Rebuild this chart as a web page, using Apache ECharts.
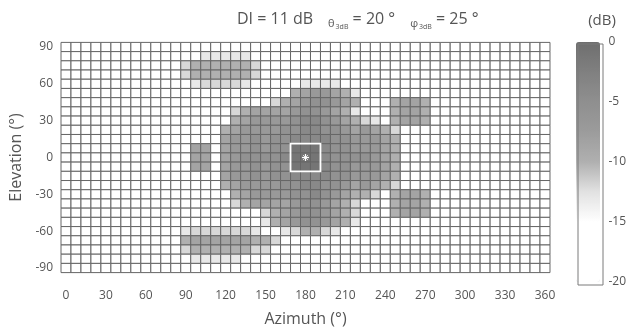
<!DOCTYPE html>
<html><head><meta charset="utf-8">
<script src="https://cdn.jsdelivr.net/npm/echarts@6/dist/echarts.min.js"></script>
<style>html,body{margin:0;padding:0;background:#fff}#c{width:629px;height:335px}</style>
</head><body><div id="c"></div>
<script>
// ---- data ----
const azimuthTicks = [0, 30, 60, 90, 120, 150, 180, 210, 240, 270, 300, 330, 360];
const elevationTicks = [-90, -60, -30, 0, 30, 60, 90];
const colorbarTicks = [-20, -15, -10, -5, 0];
const azimuthStep = 7.5;     // degrees between samples (columns)
const elevationStep = 7.5;   // degrees between samples (rows)
const elevationTop = 90;     // elevation of first row
// level key: character -> dB
const levelKey = { '.': -20, '1': -13, '2': -12, '3': -10, '4': -8.5, '5': -7, '6': -5.5, '7': -4, '8': -1 };
// 25 rows (elevation 90 .. -90), 49 columns (azimuth 0 .. 360)
const patternRows = [
  ".........." + ".........." + ".........." + ".........." + ".........",
  ".........." + "....11111." + ".........." + ".........." + ".........",
  ".........." + "..23333332" + ".........." + ".........." + ".........",
  ".........." + "..23333332" + ".........." + ".........." + ".........",
  ".........." + "...122221." + "....1111.." + ".........." + ".........",
  ".........." + ".........." + "...3455431" + ".........." + ".........",
  ".........." + ".........." + ".234566543" + "...3443..." + ".........",
  ".........." + ".......234" + "4445665431" + "...3443..." + ".........",
  ".........." + ".......345" + "5556776543" + "21.3443..." + ".........",
  ".........." + "......3455" + "5566776654" + "5432......" + ".........",
  ".........." + "......4556" + "5667777665" + "5543......" + ".........",
  ".........." + "...44.4556" + "5668887665" + "5543......" + ".........",
  ".........." + "...44.4566" + "6678887666" + "6543......" + ".........",
  ".........." + "...44.4556" + "5668887665" + "5543......" + ".........",
  ".........." + "......4556" + "5667777665" + "5543......" + ".........",
  ".........." + "......3455" + "5566776654" + "5432......" + ".........",
  ".........." + ".......345" + "5556676543" + "32.3443..." + ".........",
  ".........." + ".......234" + "4445665432" + "...3443..." + ".........",
  ".........." + ".........." + "2345665432" + "...3443..." + ".........",
  ".........." + ".........." + "1345665431" + ".........." + ".........",
  ".........." + "..12222221" + "..123321.." + ".........." + ".........",
  ".........." + "..34444443" + "32........" + ".........." + ".........",
  ".........." + "..23333332" + "2........." + ".........." + ".........",
  ".........." + "...11111.." + ".........." + ".........." + ".........",
  ".........." + ".........." + ".........." + ".........." + "........."
];
const peakPoint = [180, 0];
const titleValues = { di: 11, theta3dB: 20, phi3dB: 25 };

// ---- build ----
const cells = [];
patternRows.forEach(function (row, j) {
  for (let i = 0; i < row.length; i++) {
    cells.push([i * azimuthStep, elevationTop - j * elevationStep, levelKey[row[i]]]);
  }
});

const FONT = 'Open Sans';
const TXT = '#555555';
const chart = echarts.init(document.getElementById('c'), null, { renderer: 'canvas' });
chart.setOption({
  animation: false,
  backgroundColor: '#ffffff',
  title: [{
    left: 232, top: 6,
    text: '{a|DI = ' + titleValues.di + ' dB}{g|}{s|θ}{sub|3dB}{a| = ' + titleValues.theta3dB + ' °}{g|}{s|φ}{sub|3dB}{a| = ' + titleValues.phi3dB + ' °}',
    textStyle: {
      fontWeight: 'normal',
      rich: {
        a: { fontFamily: FONT, fontSize: 16, fontWeight: 'normal', color: TXT, verticalAlign: 'bottom', padding: [0, 0, 3, 0] },
        s: { fontFamily: FONT, fontSize: 11, fontWeight: 'normal', color: TXT, verticalAlign: 'bottom', padding: [0, 0, 1, 0] },
        sub: { fontFamily: FONT, fontSize: 7, fontWeight: 'normal', color: TXT, verticalAlign: 'bottom', padding: [0, 0, 0, 1] },
        g: { width: 15 }
      }
    }
  }, {
    left: 597, top: 8, textAlign: 'center', text: '(dB)',
    textStyle: { fontFamily: FONT, fontSize: 15, fontWeight: 'normal', color: TXT }
  }],
  grid: [
    { left: 66, right: 84, top: 47, bottom: 67 },
    { left: 576, top: 42, width: 24, height: 240, show: false }
  ],
  xAxis: [{
    type: 'value', gridIndex: 0, min: 0, max: 360, interval: 30,
    axisLine: { show: false }, axisTick: { show: false }, splitLine: { show: false },
    axisLabel: { fontFamily: FONT, fontSize: 12, color: TXT, margin: 22 },
    name: 'Azimuth (°)', nameLocation: 'middle', nameGap: 43,
    nameTextStyle: { fontFamily: FONT, fontSize: 16, color: TXT }
  }, {
    type: 'value', gridIndex: 1, show: false, min: 0, max: 1
  }],
  yAxis: [{
    type: 'value', gridIndex: 0, min: -90, max: 90, interval: 30,
    axisLine: { show: false }, axisTick: { show: false }, splitLine: { show: false },
    axisLabel: { fontFamily: FONT, fontSize: 12, color: TXT, margin: 13 },
    name: 'Elevation (°)', nameLocation: 'middle', nameGap: 39,
    nameTextStyle: { fontFamily: FONT, fontSize: 16, color: TXT }
  }, {
    type: 'value', gridIndex: 1, min: -20, max: 0, interval: 5, position: 'right',
    axisLine: { show: false }, axisTick: { show: false }, splitLine: { show: false },
    axisLabel: { fontFamily: FONT, fontSize: 12, color: TXT, margin: 14 }
  }],
  visualMap: {
    type: 'continuous', min: -20, max: 0, dimension: 2, seriesIndex: 0,
    left: 576, top: 42, itemWidth: 24, itemHeight: 240, padding: 0,
    calculable: false, text: null, showLabel: false, hoverLink: false,
    inRange: { color: ['#ffffff', '#ffffff', '#ffffff', '#e2e2e2', '#b0b0b0', '#9c9c9c', '#8f8f8f', '#808080', '#6e6e6e'] }
  },
  series: [{
    type: 'custom', xAxisIndex: 0, yAxisIndex: 0, clip: false,
    data: cells, encode: { x: 0, y: 1 },
    renderItem: function (params, api) {
      const az = api.value(0), el = api.value(1);
      const p0 = api.coord([az - azimuthStep / 2, el + elevationStep / 2]);
      const p1 = api.coord([az + azimuthStep / 2, el - elevationStep / 2]);
      return {
        type: 'rect',
        shape: { x: p0[0], y: p0[1], width: p1[0] - p0[0], height: p1[1] - p0[1] },
        style: { fill: api.visual('color'), stroke: '#666666', lineWidth: 1 }
      };
    }
  }, {
    type: 'custom', xAxisIndex: 0, yAxisIndex: 0, clip: false, z: 5,
    data: [peakPoint], encode: { x: 0, y: 1 },
    renderItem: function (params, api) {
      const az = api.value(0), el = api.value(1);
      const c = api.coord([az, el]);
      const p0 = api.coord([az - 1.5 * azimuthStep, el + 1.5 * elevationStep]);
      const p1 = api.coord([az + 1.5 * azimuthStep, el - 1.5 * elevationStep]);
      const r = 3.5;
      return {
        type: 'group',
        children: [
          { type: 'rect', shape: { x: p0[0], y: p0[1], width: p1[0] - p0[0], height: p1[1] - p0[1] },
            style: { fill: null, stroke: '#ffffff', lineWidth: 1.8 } },
          { type: 'line', shape: { x1: c[0] - r, y1: c[1], x2: c[0] + r, y2: c[1] }, style: { stroke: '#ffffff', lineWidth: 1.2 } },
          { type: 'line', shape: { x1: c[0], y1: c[1] - r, x2: c[0], y2: c[1] + r }, style: { stroke: '#ffffff', lineWidth: 1.2 } },
          { type: 'line', shape: { x1: c[0] - r * 0.7, y1: c[1] - r * 0.7, x2: c[0] + r * 0.7, y2: c[1] + r * 0.7 }, style: { stroke: '#ffffff', lineWidth: 0.8 } },
          { type: 'line', shape: { x1: c[0] - r * 0.7, y1: c[1] + r * 0.7, x2: c[0] + r * 0.7, y2: c[1] - r * 0.7 }, style: { stroke: '#ffffff', lineWidth: 0.8 } }
        ]
      };
    }
  }],
  graphic: [{
    type: 'rect', left: 575.5, top: 41.5, z: 10, silent: true,
    shape: { width: 25, height: 241 },
    style: { fill: null, stroke: '#7a7a7a', lineWidth: 1 }
  }]
});
</script>
</body></html>
